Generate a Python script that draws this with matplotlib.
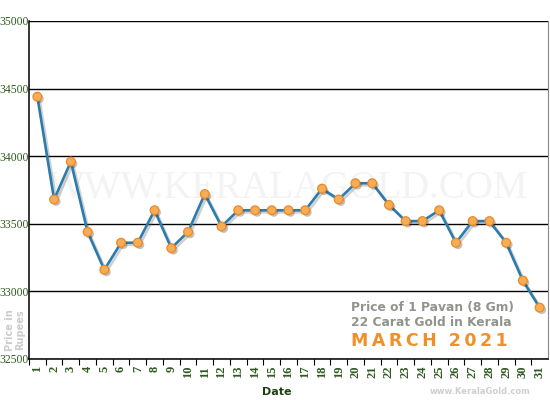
import matplotlib
matplotlib.use("Agg")
import matplotlib.pyplot as plt
import matplotlib.patheffects as pe

# Kerala gold, 1 pavan (8 g) 22 carat, March 2021
days = list(range(1, 32))
prices = [34440, 33680, 33960, 33440, 33160, 33360, 33360, 33600, 33320, 33440,
          33720, 33480, 33600, 33600, 33600, 33600, 33600, 33760, 33680, 33800,
          33800, 33640, 33520, 33520, 33600, 33360, 33520, 33520, 33360, 33080,
          32880]
yticks = [32500, 33000, 33500, 34000, 34500, 35000]

green = "#2f5a1f"
fig = plt.figure(figsize=(5.5, 4), dpi=100)
ax = fig.add_axes([29 / 550, 1 - 359 / 400, 519 / 550, 338 / 400])

ax.set_xlim(0.5, 31.5)
ax.set_ylim(32500, 35000)

# watermark
ax.text(16, 33760, "WWW.KERALAGOLD.COM", fontsize=28, family="Liberation Serif",
        color="#f3f3f3", ha="center", va="center", zorder=0)

for y in yticks:
    ax.axhline(y, color="black", lw=1.0, zorder=1)

ax.plot(days, prices, color="#2b7bae", lw=1.9, zorder=3,
        path_effects=[pe.SimpleLineShadow(offset=(1.5, -1.5), shadow_color="#666666", alpha=0.3),
                      pe.Normal()])
ax.plot(days, prices, ls="none", marker="o", ms=6.3, mfc="#f8ad55", mec="#e8892a",
        mew=0.9, zorder=4,
        path_effects=[pe.SimplePatchShadow(offset=(1.5, -1.5), alpha=0.3), pe.Normal()])

ax.set_xticks([d + 0.5 for d in range(0, 31)])
ax.set_xticklabels([])
ax.set_xticks(days, minor=True)
ax.set_xticklabels([str(d) for d in days], minor=True, rotation=90,
                   family="Liberation Serif", fontsize=9, color=green, fontweight="bold")
ax.tick_params(axis="x", which="major", length=4, color="black", direction="out")
ax.tick_params(axis="x", which="minor", length=0, pad=5)

ax.set_yticks(yticks)
ax.set_yticklabels([str(y) for y in yticks], family="Liberation Serif", fontsize=8.4,
                   color=green)
ax.tick_params(axis="y", length=0, pad=0.3)

ax.spines["top"].set_visible(False)
ax.spines["right"].set_color("#888888")
ax.spines["left"].set_linewidth(1.1)
ax.spines["bottom"].set_linewidth(1.1)

fig.text(277 / 550, 1 - 392 / 400, "Date", fontsize=8, fontweight="bold", color="#1f3f12",
         ha="center", va="center", family="DejaVu Sans")
fig.text(15 / 550, 1 - 330 / 400, "Price in\nRupees", fontsize=7, fontweight="bold",
         color="#cccccc", rotation=90, ha="center", va="center", linespacing=0.95,
         family="DejaVu Sans")
fig.text(480 / 550, 1 - 391 / 400, "www.KeralaGold.com", fontsize=6, fontweight="bold",
         color="#cfcfcf", ha="center", va="center", family="DejaVu Sans")

fig.text(351 / 550, 1 - 307 / 400, "Price of 1 Pavan (8 Gm)", fontsize=8.8, fontweight="bold",
         color="#8f958a", ha="left", va="center", family="DejaVu Sans")
fig.text(351 / 550, 1 - 322 / 400, "22 Carat Gold in Kerala", fontsize=8.8, fontweight="bold",
         color="#8f958a", ha="left", va="center", family="DejaVu Sans")
fig.text(351 / 550, 1 - 341 / 400, "M\u2009A\u2009R\u2009C\u2009H  2\u20090\u20092\u20091",
         fontsize=12.5, fontweight="bold", color="#f0902a", ha="left", va="center",
         family="DejaVu Sans")

fig.savefig("out.png", dpi=100)
